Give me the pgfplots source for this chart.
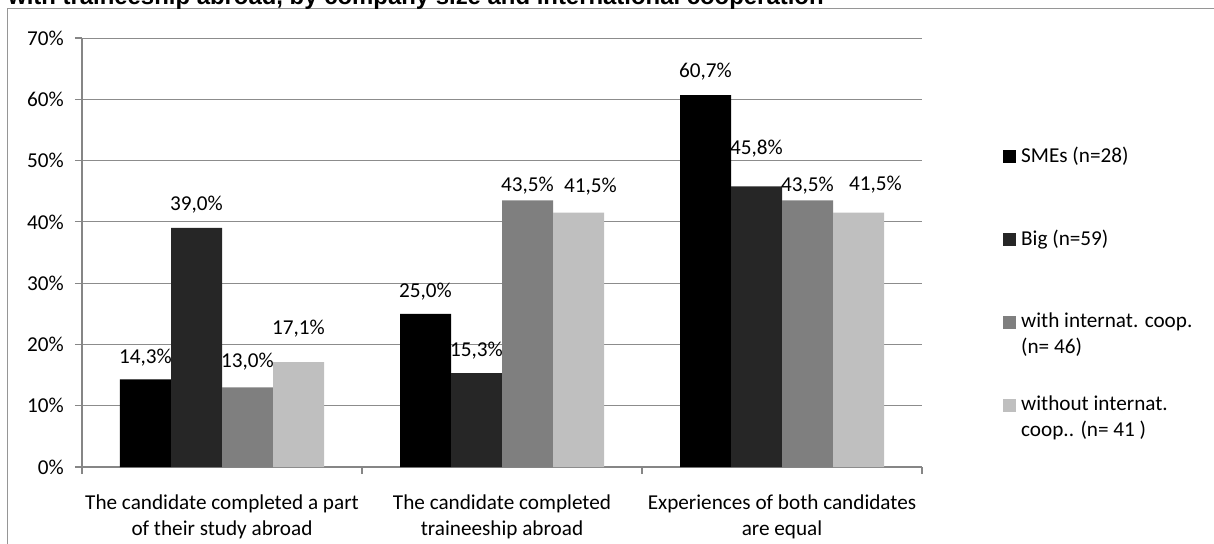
\documentclass[border=0pt]{standalone}
\usepackage{pgfplots}
\usepackage{pgfplotstable}
\pgfplotsset{compat=1.18}
\usepackage{fontspec}
\setmainfont{Carlito}
\newfontfamily\titlefont{Liberation Sans}

\definecolor{smes}{RGB}{0,0,0}
\definecolor{big}{RGB}{38,38,38}
\definecolor{withc}{RGB}{127,127,127}
\definecolor{withoutc}{RGB}{191,191,191}
\definecolor{axisgray}{RGB}{134,134,134}
\definecolor{gridgray}{RGB}{140,140,140}
\definecolor{framegray}{RGB}{150,150,150}

\newcommand\cf{\fontsize{21.2bp}{26bp}\selectfont}

% x = category centre, y = share (%), dx/dy = label offset from the bar top (bp)
\pgfplotstableread{
x   y    dx  dy
0.5 14.3 0   22
1.5 25.0 0   22
2.5 60.7 0   23
}\tabSME
\pgfplotstableread{
x   y    dx  dy
0.5 39.0 0   23
1.5 15.3 0   23
2.5 45.8 0   38
}\tabBig
\pgfplotstableread{
x   y    dx  dy
0.5 13.0 0   26
1.5 43.5 0   15
2.5 43.5 0   15
}\tabWith
\pgfplotstableread{
x   y    dx  dy
0.5 17.1 0   34
1.5 41.5 12  26
2.5 41.5 17  28
}\tabWithout

\begin{document}
\begin{tikzpicture}
\useasboundingbox (0,0) rectangle (1214bp,-544bp);
\clip (0,0) rectangle (1214bp,-544bp);
\draw[framegray, line width=1bp] (7.5bp,-8.5bp) rectangle (1400bp,-800bp);
\node[anchor=base west, inner sep=0pt,
      font={\titlefont\fontsize{23.9bp}{28bp}\selectfont\bfseries}]
  at (8bp,-4bp) {with traineeship abroad, by company size and international cooperation};
\begin{axis}[
  at={(82bp,-467bp)}, anchor=south west,
  scale only axis, width=840bp, height=429bp,
  xmin=0, xmax=3, ymin=0, ymax=70,
  ybar=0pt, bar width=51bp,
  axis x line*=bottom, axis y line*=left,
  axis line style={draw=axisgray, line width=1.2bp, -},
  xtick={0.5,1.5,2.5},
  xticklabels={{The candidate completed a part\\of their study abroad},
               {The candidate completed\\traineeship abroad},
               {Experiences of both candidates\\are equal}},
  major x tick style={draw=none},
  minor xtick={0,1,2,3},
  minor x tick style={draw=axisgray, line width=1.2bp},
  minor tick length=7bp,
  ytick={0,10,...,70},
  yticklabels={0\%,10\%,20\%,30\%,40\%,50\%,60\%,70\%},
  major y tick style={draw=axisgray, line width=1.2bp},
  major tick length=7bp,
  tick align=outside,
  ymajorgrids, grid style={draw=gridgray, line width=1bp},
  xticklabel style={font=\cf, align=center, anchor=north, inner sep=0pt, yshift=-21bp, text=black},
  yticklabel style={font=\cf, anchor=east, inner sep=0pt, xshift=-11bp, text=black},
  nodes near coords={\pgfmathprintnumber[fixed,fixed zerofill,precision=1,use comma,assume math mode=true]{\pgfplotspointmeta}\%},
  visualization depends on={\thisrow{dx}\as\labdx},
  visualization depends on={\thisrow{dy}\as\labdy},
  every node near coord/.append style={font=\cf, text=black, anchor=center, inner sep=0pt,
      xshift=\labdx bp, yshift=\labdy bp},
  legend style={draw=none, fill=none, inner sep=0pt, row sep=23bp, column sep=5bp,
      nodes={inner sep=0pt, text depth={}, font=\cf},
      at={(1.0964,0.7459)}, anchor=north west},
  legend cell align=left,
  every axis plot post/.append style={
      legend image code/.code={
        \fill[##1] (0bp,14.5bp) rectangle (13bp,27.5bp);
        \path[draw=none, fill=none] (0bp,-27.5bp) rectangle (13bp,27.5bp);}},
  clip=false,
]
\addplot[fill=smes, draw=none] table[x=x, y=y] {\tabSME};
\addlegendentry{\parbox[c][60bp][t]{200bp}{\raggedright SMEs (n=28)}}
\addplot[fill=big, draw=none] table[x=x, y=y] {\tabBig};
\addlegendentry{\parbox[c][60bp][t]{200bp}{\raggedright Big (n=59)}}
\addplot[fill=withc, draw=none] table[x=x, y=y] {\tabWith};
\addlegendentry{\parbox[c][60bp][t]{200bp}{\raggedright with internat. coop.\\(n= 46)}}
\addplot[fill=withoutc, draw=none] table[x=x, y=y] {\tabWithout};
\addlegendentry{\parbox[c][60bp][t]{200bp}{\raggedright without internat.\\coop.. (n= 41 )}}
\end{axis}
\end{tikzpicture}
\end{document}
